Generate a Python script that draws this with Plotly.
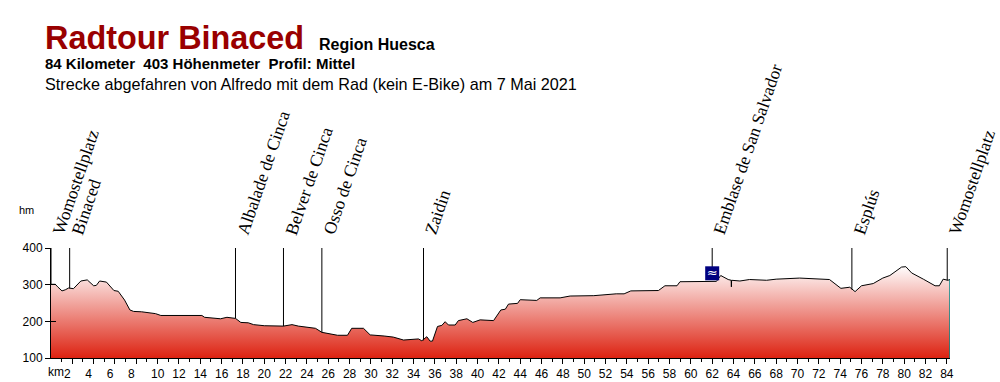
import plotly.graph_objects as go

km = [0,0.4,0.63,1.03,1.34,1.66,2.1,2.4,2.8,3.4,4,4.25,4.56,5.2,5.9,6.3,6.9,7.4,7.75,8.5,9.3,9.8,10.3,14.15,14.4,14.9,15.9,16.5,17.3,17.8,18.5,19,20,21.8,22.6,23.2,24.8,25.4,26.2,26.87,27.8,28.2,29.3,29.93,31.24,32.1,33.06,34.46,34.77,35.24,35.55,35.77,36.24,36.65,36.96,37.27,37.9,38.2,39,39.55,40.24,41.5,42.18,42.6,42.9,43.75,44,45.55,45.87,47.74,48.68,50.9,53,53.74,54.37,56.96,57.57,58.7,58.98,62.4,62.8,63.5,63.78,63.8,63.82,64.6,65.5,67.1,68,70.2,73,74.07,74.9,75.4,76,77.1,78,78.66,79.76,80.16,80.7,81.8,82.9,83.3,83.66,84.1,84.3]
elev = [301,301,294,283,286,291,289,298,310,313,297,298,310,307,284,282,258,231,227,226,222,221,216,216,211,209,207,211,208,197,196,191,188,187,191,187,181,170,165,162,162,181,181,163,160,157,149,152,147,158,146,146,186,189,199,190,190,202,207,197,204,202,231,233,247,249,259,257,264,264,269,270,275,275,283,284,297,297,308,309,325,314,312,294,312,310,314,312,315,318,314,290,293,281,297,303,318,325,348,349,332,315,297,297,315,312,314]

place_names = ["Womostellplatz","Binaced","Albalade de Cinca","Belver de Cinca","Osso de Cinca","Zaidin","Emblase de San Salvador","Esplús","Womostellplatz"]
place_km = [0,1.75,17.3,21.8,25.4,34.93,62.0,75.1,84.04]
place_elev = [301,290,208,187,170,148,331,287,312]
water_km = [62.0]
water_elev = [331]
km_ticks = list(range(2,86,2))
hm_ticks = [100,200,300,400]

W,H = 1000,382
L,R,T,B = 50.7,49.7,247.5,24
pw,ph = W-L-R,H-T-B
def px(x): return (x-L)/pw
def py(y): return (H-B-y)/ph

fig = go.Figure()
fig.add_trace(go.Scatter(x=km,y=elev,mode="lines",line=dict(color="black",width=1),
    fill="tozeroy",fillcolor="rgba(0,0,0,0)",
    fillgradient=dict(type="vertical",start=100,stop=352,colorscale=[[0,"#dd2211"],[1,"#ffffff"]]),
    hoverinfo="skip",showlegend=False))
vx,vy=[],[]
for k,e in zip(place_km,place_elev):
    vx+=[k,k,None]; vy+=[e,400,None]
fig.add_trace(go.Scatter(x=vx,y=vy,mode="lines",line=dict(color="black",width=1),hoverinfo="skip",showlegend=False))
fig.add_trace(go.Scatter(x=[km[-1],km[-1]],y=[100,elev[-1]],mode="lines",line=dict(color="#008b8b",width=1.5),
    hoverinfo="skip",showlegend=False,yaxis="y2"))
fig.add_trace(go.Scatter(x=water_km,y=water_elev,mode="markers+text",text=["≈"],textposition="middle center",
    textfont=dict(color="white",size=13,family="DejaVu Sans"),
    marker=dict(symbol="square",size=14,color="#000080"),hoverinfo="skip",showlegend=False,cliponaxis=False))

ann=[]
def label(x,y,text,size,color="black",bold=False,family="Liberation Sans"):
    ann.append(dict(xref="paper",yref="paper",x=px(x),y=py(y),xanchor="left",yanchor="middle",showarrow=False,
        text=f"<b>{text}</b>" if bold else text,font=dict(size=size,color=color,family=family),borderpad=0))
label(44,37,"Radtour Binaced",32.4,"#990000",True)
label(318,43,"Region Huesca",16,"black",True)
label(44,62,"84 Kilometer  403 Höhenmeter  Profil: Mittel",15,"black",True)
label(44,83,"Strecke abgefahren von Alfredo mit dem Rad (kein E-Bike) am 7 Mai 2021",16.2)
label(18,209,"hm",11)
label(47,372,"km",12)
for n,k in zip(place_names,place_km):
    ann.append(dict(xref="x",yref="paper",x=k,y=py(238),xanchor="left",yanchor="bottom",xshift=-4,showarrow=False,
        text=n,textangle=-71,font=dict(size=17.5,color="black",family="Liberation Serif"),borderpad=0))

fig.update_layout(width=W,height=H,autosize=False,margin=dict(l=L,r=R,t=T,b=B,pad=0),
    paper_bgcolor="white",plot_bgcolor="white",annotations=ann,showlegend=False,
    xaxis=dict(range=[0,84.3],automargin=False,showgrid=False,zeroline=False,showline=True,linecolor="black",linewidth=1,
        tickmode="array",tickvals=km_ticks,ticktext=[str(v)+("\u00a0\u00a0\u00a0" if v<10 else "") for v in km_ticks],ticks="outside",ticklen=5,tickcolor="black",
        tickfont=dict(size=12,family="Liberation Sans",color="black"),
        minor=dict(tickvals=list(range(1,85,2)),ticks="outside",ticklen=3,tickcolor="black")),
    yaxis=dict(range=[100,400],automargin=False,showgrid=False,zeroline=False,showline=True,linecolor="black",linewidth=1,
        tickmode="array",tickvals=hm_ticks,ticks="outside",ticklen=5,tickcolor="black",
        tickfont=dict(size=12,family="Liberation Sans",color="black")),
    yaxis2=dict(range=[100,400],overlaying="y",side="left",anchor="x",automargin=False,showgrid=False,zeroline=False,showline=False,
        tickmode="array",tickvals=hm_ticks,ticks="inside",ticklen=5,tickcolor="black",showticklabels=False))
fig.write_html("out.html",config=dict(displayModeBar=False),post_script="document.body.style.margin='0';")
